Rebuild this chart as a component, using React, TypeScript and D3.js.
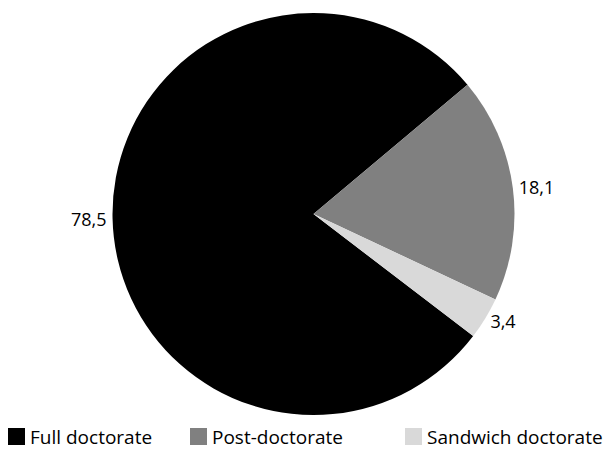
import React from "react";
import * as d3 from "d3";

const categories = ["Full doctorate", "Post-doctorate", "Sandwich doctorate"];
const values = [78.5, 18.1, 3.4];
const valueLabels = ["78,5", "18,1", "3,4"];
const colors = ["#000000", "#808080", "#d9d9d9"];

const W = 605;
const H = 473;
const cx = 313.5;
const cy = 214;
const R = 201;
const FONT = "'Open Sans', 'Noto Sans', sans-serif";

export default function App() {
  const startDeg = -232.6;
  const pie = d3
    .pie<number>()
    .sort(null)
    .startAngle((startDeg * Math.PI) / 180)
    .endAngle(((startDeg + 360) * Math.PI) / 180);
  const arcs = pie(values);
  const arc = d3.arc<d3.PieArcDatum<number>>().innerRadius(0).outerRadius(R);

  const legendX = [8, 190, 405];

  return (
    <svg
      width={W}
      height={H}
      style={{ position: "absolute", left: 0, top: 0, background: "#fff" }}
    >
      <g transform={`translate(${cx},${cy})`}>
        {arcs.map((a, i) => (
          <path key={i} d={arc(a) || ""} fill={colors[i]} />
        ))}
        {arcs.map((a, i) => {
          const mid = (a.startAngle + a.endAngle) / 2;
          const lr = R + 6;
          const x = Math.sin(mid) * lr;
          const y = -Math.cos(mid) * lr;
          const right = Math.sin(mid) > 0;
          return (
            <text
              key={i}
              x={x}
              y={y}
              textAnchor={right ? "start" : "end"}
              dominantBaseline="central"
              fontFamily={FONT}
              fontSize={18}
              fill="#000"
            >
              {valueLabels[i]}
            </text>
          );
        })}
      </g>
      {categories.map((c, i) => (
        <g key={c} transform={`translate(${legendX[i]},428)`}>
          <rect x={0} y={0} width={17} height={17} fill={colors[i]} />
          <text x={22} y={16} fontFamily={FONT} fontSize={19} fill="#000">
            {c}
          </text>
        </g>
      ))}
    </svg>
  );
}
